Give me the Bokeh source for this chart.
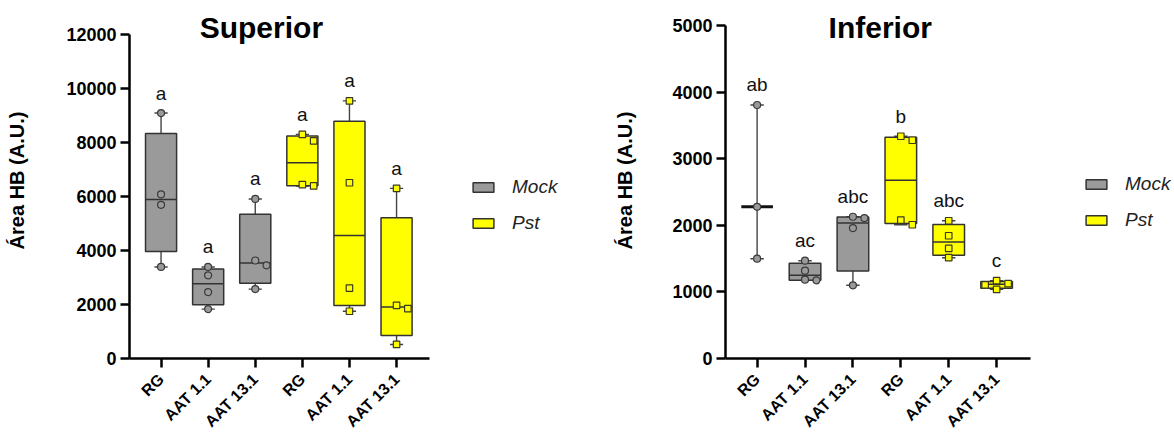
import numpy as np
from bokeh.plotting import figure
from bokeh.layouts import row
from bokeh.models import (ColumnDataSource, FixedTicker, Legend, LegendItem, Label, Range1d)
from bokeh.embed import file_html
from bokeh.resources import INLINE
from bokeh.core.properties import value

# ---------------- data ----------------
tick_labels = ["RG", "AAT 1.1", "AAT 13.1", "RG", "AAT 1.1", "AAT 13.1"]
treatments = ["Mock", "Pst"]
group_treatment = ["Mock", "Mock", "Mock", "Pst", "Pst", "Pst"]

# Superior
sup_mock_rg = [9090, 6080, 5690, 3390]
sup_mock_aat11 = [3390, 3080, 2460, 1830]
sup_mock_aat131 = [5910, 3630, 3450, 2570]
sup_pst_rg = [8300, 8060, 6440, 6390]
sup_pst_aat11 = [9540, 6510, 2610, 1750]
sup_pst_aat131 = [6300, 1970, 1850, 520]
sup_letters = ["a", "a", "a", "a", "a", "a"]

# Inferior
inf_mock_rg = [3810, 2280, 1500]
inf_mock_aat11 = [1470, 1320, 1185, 1175]
inf_mock_aat131 = [2130, 2110, 1960, 1100]
inf_pst_rg = [3340, 3280, 2080, 2010]
inf_pst_aat11 = [2070, 1845, 1655, 1515]
inf_pst_aat131 = [1170, 1125, 1105, 1040]
inf_letters = ["ab", "ac", "abc", "b", "abc", "c"]

sup_groups = [sup_mock_rg, sup_mock_aat11, sup_mock_aat131, sup_pst_rg, sup_pst_aat11, sup_pst_aat131]
inf_groups = [inf_mock_rg, inf_mock_aat11, inf_mock_aat131, inf_pst_rg, inf_pst_aat11, inf_pst_aat131]

# ---------------- style ----------------
FONT = "Liberation Sans"
FILL = {"Mock": "#9a9a9a", "Pst": "#ffff00"}
EDGE = "#333333"
PT_EDGE = {"Mock": "#3a3a3a", "Pst": "#3a3a20"}
MARKER = {"Mock": "circle", "Pst": "square"}
MSIZE = {"Mock": 7, "Pst": 6.5}
BOX_W = 0.66
CAP_W = 0.28
FIG_H = 440
B_TOP = 2
B_BOT = 82
B_RIGHT = 2


def stats(vals):
    v = np.asarray(vals, dtype=float)
    q1, med, q3 = np.percentile(v, [25, 50, 75], method="weibull")
    return q1, med, q3, v.min(), v.max()


def spread(vals, ypx, xpx, step=0.12, r=6.5):
    placed, offs = [], []
    for v in vals:
        dx = 0.0
        for k in [0, 1, -1, 2, -2, 3, -3]:
            dx = k * step
            if all(abs((v - pv) * ypx) >= r or abs((dx - pd) * xpx) >= r for pv, pd in placed):
                break
        placed.append((v, dx))
        offs.append(dx)
    return offs


def make_panel(groups, letters, ymax, ystep, title, width, b_left, axis_px, unit_px, x_start,
               x_end_axis, title_xy, legend_loc, ylabel_standoff):
    frame_w = width - b_left - B_RIGHT
    frame_h = FIG_H - B_TOP - B_BOT
    ypx = axis_px / ymax                      # pixels per data unit (y)
    xpx = unit_px                             # pixels per category (x)
    y_top = frame_h / ypx
    x_end = x_start + frame_w / xpx
    p = figure(width=width, height=FIG_H,
               x_range=Range1d(x_start, x_end), y_range=Range1d(0, y_top),
               output_backend="svg", toolbar_location=None,
               min_border_left=b_left, min_border_right=B_RIGHT,
               min_border_top=B_TOP, min_border_bottom=B_BOT)
    p.xgrid.grid_line_color = None
    p.ygrid.grid_line_color = None
    p.outline_line_color = None
    p.background_fill_color = "white"
    p.border_fill_color = "white"

    box = {t: dict(x=[], q1=[], q3=[]) for t in treatments}
    med = {t: dict(x0=[], x1=[], y=[]) for t in treatments}
    med3 = dict(x0=[], x1=[], y=[])
    wh = dict(x=[], y0=[], y1=[])
    cap = dict(x0=[], x1=[], y=[])
    pts = {t: dict(x=[], y=[]) for t in treatments}
    lab = dict(x=[], y=[], text=[])

    for i, vals in enumerate(groups):
        t = group_treatment[i]
        q1, m, q3, lo, hi = stats(vals)
        if len(vals) >= 4:
            box[t]["x"].append(i); box[t]["q1"].append(q1); box[t]["q3"].append(q3)
            med[t]["x0"].append(i - BOX_W / 2); med[t]["x1"].append(i + BOX_W / 2); med[t]["y"].append(m)
            wh["x"] += [i, i]; wh["y0"] += [q3, q1]; wh["y1"] += [hi, lo]
        else:
            med3["x0"].append(i - BOX_W / 2); med3["x1"].append(i + BOX_W / 2); med3["y"].append(m)
            wh["x"].append(i); wh["y0"].append(lo); wh["y1"].append(hi)
        cap["x0"] += [i - CAP_W / 2, i - CAP_W / 2]
        cap["x1"] += [i + CAP_W / 2, i + CAP_W / 2]
        cap["y"] += [hi, lo]
        offs = spread(vals, ypx, xpx)
        pts[t]["x"] += [i + o for o in offs]
        pts[t]["y"] += list(vals)
        lab["x"].append(i); lab["y"].append(hi); lab["text"].append(letters[i])

    p.segment(x0="x", y0="y0", x1="x", y1="y1", source=ColumnDataSource(wh),
              line_color="#444444", line_width=1.4)
    p.segment(x0="x0", y0="y", x1="x1", y1="y", source=ColumnDataSource(cap),
              line_color="#444444", line_width=1.4)
    rend = {}
    for t in treatments:
        rend[t] = p.vbar(x="x", width=BOX_W, bottom="q1", top="q3", source=ColumnDataSource(box[t]),
                         fill_color=FILL[t], line_color=EDGE, line_width=1.5)
        p.segment(x0="x0", y0="y", x1="x1", y1="y", source=ColumnDataSource(med[t]),
                  line_color=EDGE, line_width=1.5)
    p.segment(x0="x0", y0="y", x1="x1", y1="y", source=ColumnDataSource(med3),
              line_color="#111111", line_width=3)
    for t in treatments:
        p.scatter(x="x", y="y", source=ColumnDataSource(pts[t]), marker=MARKER[t], size=MSIZE[t],
                  fill_color=FILL[t], line_color=PT_EDGE[t], line_width=1.2)

    p.text(x="x", y="y", text="text", source=ColumnDataSource(lab), text_align="center",
           text_baseline="alphabetic", y_offset=-20, text_font=value(FONT),
           text_font_size="19px", text_color="#111111")

    p.add_layout(Label(x=title_xy[0], y=title_xy[1], text=title, text_align="center",
                       text_baseline="alphabetic", text_font=FONT, text_font_size="30px",
                       text_font_style="bold", text_color="black"))

    for ax in [p.xaxis[0], p.yaxis[0]]:
        ax.axis_line_width = 2.5
        ax.axis_line_color = "black"
        ax.major_tick_line_width = 2.5
        ax.major_tick_line_color = "black"
        ax.major_tick_out = 9
        ax.major_tick_in = 0
        ax.minor_tick_line_color = None
        ax.major_label_text_font = FONT
        ax.major_label_text_font_style = "bold"
        ax.major_label_text_color = "black"

    p.yaxis.bounds = (0, ymax)
    p.yaxis.ticker = FixedTicker(ticks=list(range(0, ymax + 1, ystep)))
    p.yaxis.major_label_text_font_size = "18px"
    p.yaxis.major_label_standoff = 4
    p.yaxis.axis_label = "Área HB (A.U.)"
    p.yaxis.axis_label_text_font = FONT
    p.yaxis.axis_label_text_font_size = "20px"
    p.yaxis.axis_label_text_font_style = "bold"
    p.yaxis.axis_label_text_color = "black"
    p.yaxis.axis_label_standoff = ylabel_standoff

    p.xaxis.bounds = (x_start, x_end_axis)
    p.xaxis.ticker = FixedTicker(ticks=list(range(len(tick_labels))))
    p.xaxis.major_label_overrides = {i: s for i, s in enumerate(tick_labels)}
    p.xaxis.major_label_orientation = np.pi / 4
    p.xaxis.major_label_text_font_size = "16px"
    p.xaxis.major_label_standoff = 9

    legend = Legend(items=[LegendItem(label=value(t), renderers=[rend[t]]) for t in treatments],
                    location=legend_loc, orientation="vertical", glyph_width=26, glyph_height=12,
                    label_standoff=16, label_text_font=FONT, label_text_font_size="19px",
                    label_text_font_style="italic", label_text_color="#222222",
                    label_height=20, spacing=14, padding=0, margin=0,
                    border_line_color=None, background_fill_alpha=0)
    p.add_layout(legend, "center")
    return p


p1 = make_panel(sup_groups, sup_letters, 12000, 2000, "Superior", 580, 129,
                324, 47.1, -0.67, 5.70, (2.13, 12260), (341, 124), 35)
p2 = make_panel(inf_groups, inf_letters, 5000, 1000, "Inferior", 594, 145,
                332.7, 47.9, -0.66, 5.71, (2.57, 4970), (358, 127), 33)

layout = row(p1, p2)
open("out.html", "w").write(file_html(layout, INLINE))
